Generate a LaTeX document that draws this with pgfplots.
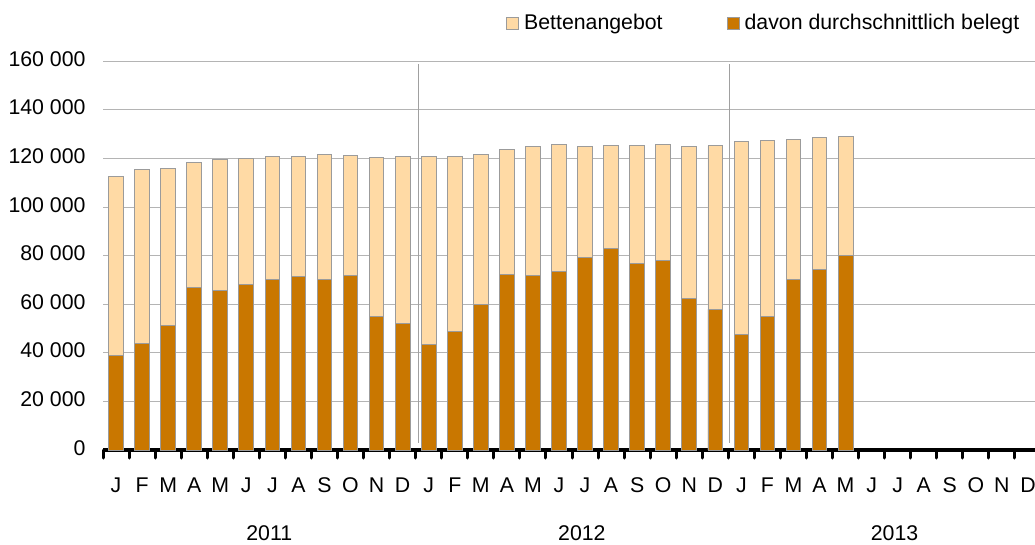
\documentclass[border=0pt]{standalone}
\usepackage{fontspec}
\setmainfont{Liberation Sans}
\usepackage{pgfplots}
\pgfplotsset{compat=1.18}
\usepackage{pgfplotstable}
\definecolor{lightbar}{RGB}{255,218,165}
\definecolor{darkbar}{RGB}{201,119,0}
\definecolor{barline}{RGB}{155,155,155}
\definecolor{gridgray}{RGB}{180,180,180}
\definecolor{sepgray}{RGB}{160,160,160}
\pgfplotstableread{
x total occ
0 112600 39000
1 115500 43900
2 116000 51400
3 118400 66800
4 119600 65600
5 119900 68200
6 120700 70100
7 120700 71600
8 121700 70200
9 121100 71900
10 120400 55100
11 120700 51900
12 120700 43500
13 120700 48800
14 121700 60000
15 123700 72400
16 125100 71700
17 125800 73500
18 124800 79300
19 125200 83000
20 125200 76800
21 125800 77900
22 125100 62400
23 125200 57900
24 126900 47700
25 127400 55000
26 127900 70200
27 128700 74400
28 129100 80200
}\data
\newcommand{\lbl}{\fontsize{21.3}{25}\selectfont}
\begin{document}
\begin{tikzpicture}[x=1pt,y=1pt]
\useasboundingbox (0,0) rectangle (1035,544);
\begin{axis}[
  at={(103pt,94pt)}, anchor=south west,
  width=932pt, height=388.7pt, scale only axis,
  xmin=-0.5, xmax=35.27, ymin=0, ymax=160000,
  axis x line*=bottom, axis y line*=left,
  y axis line style={draw=none},
  x axis line style={line width=3.5pt, black},
  clip mode=individual,
  ymajorgrids, grid style={gridgray, line width=1.1pt},
  ytick={0,20000,...,160000},
  yticklabels={0,20 000,40 000,60 000,80 000,100 000,120 000,140 000,160 000},
  scaled y ticks=false,
  ytick style={draw=none},
  yticklabel style={anchor=east, inner sep=0pt, xshift=-13pt, font=\lbl},
  xtick={0,...,35},
  xticklabels={J,F,M,A,M,J,J,A,S,O,N,D,J,F,M,A,M,J,J,A,S,O,N,D,J,F,M,A,M,J,J,A,S,O,N,D},
  major x tick style={draw=none},
  minor xtick={-0.5,0.5,...,34.5},
  tick align=outside,
  minor tick length=8pt,
  minor x tick style={line width=3pt, line cap=round, black},
  xticklabel style={anchor=base, inner sep=0pt, font=\lbl, yshift=-38pt},
  xticklabel shift=0pt,
  typeset ticklabels with strut=false,
  legend style={at={(rel axis cs:0.4324,1.0985)}, anchor=west, draw=none, fill=none,
    inner sep=0pt, font=\lbl, legend columns=2,
    /tikz/every odd column/.append style={column sep=3pt},
    /tikz/every even column/.append style={column sep=62pt}},
  legend image code/.code={\draw[#1] (0pt,-6pt) rectangle (12pt,6pt);},
]
\addplot[ybar, bar width=0.565, bar shift=0pt, fill=lightbar, draw=barline, line width=0.9pt] table[x=x,y=total]{\data};
\addlegendentry{Bettenangebot}
\addplot[ybar, bar width=0.565, bar shift=0pt, fill=darkbar, draw=barline, line width=0.9pt] table[x=x,y=occ]{\data};
\addlegendentry{davon durchschnittlich belegt}
\draw[sepgray, line width=1.2pt] (axis cs:11.6,2900) -- (axis cs:11.6,158800);
\draw[sepgray, line width=1.2pt] (axis cs:23.53,2900) -- (axis cs:23.53,158800);
\node[anchor=base, font=\lbl, inner sep=0pt] at (axis cs:5.88,0) [yshift=-90pt] {2011};
\node[anchor=base, font=\lbl, inner sep=0pt] at (axis cs:17.88,0) [yshift=-90pt] {2012};
\node[anchor=base, font=\lbl, inner sep=0pt] at (axis cs:29.88,0) [yshift=-90pt] {2013};
\end{axis}
\end{tikzpicture}
\end{document}
